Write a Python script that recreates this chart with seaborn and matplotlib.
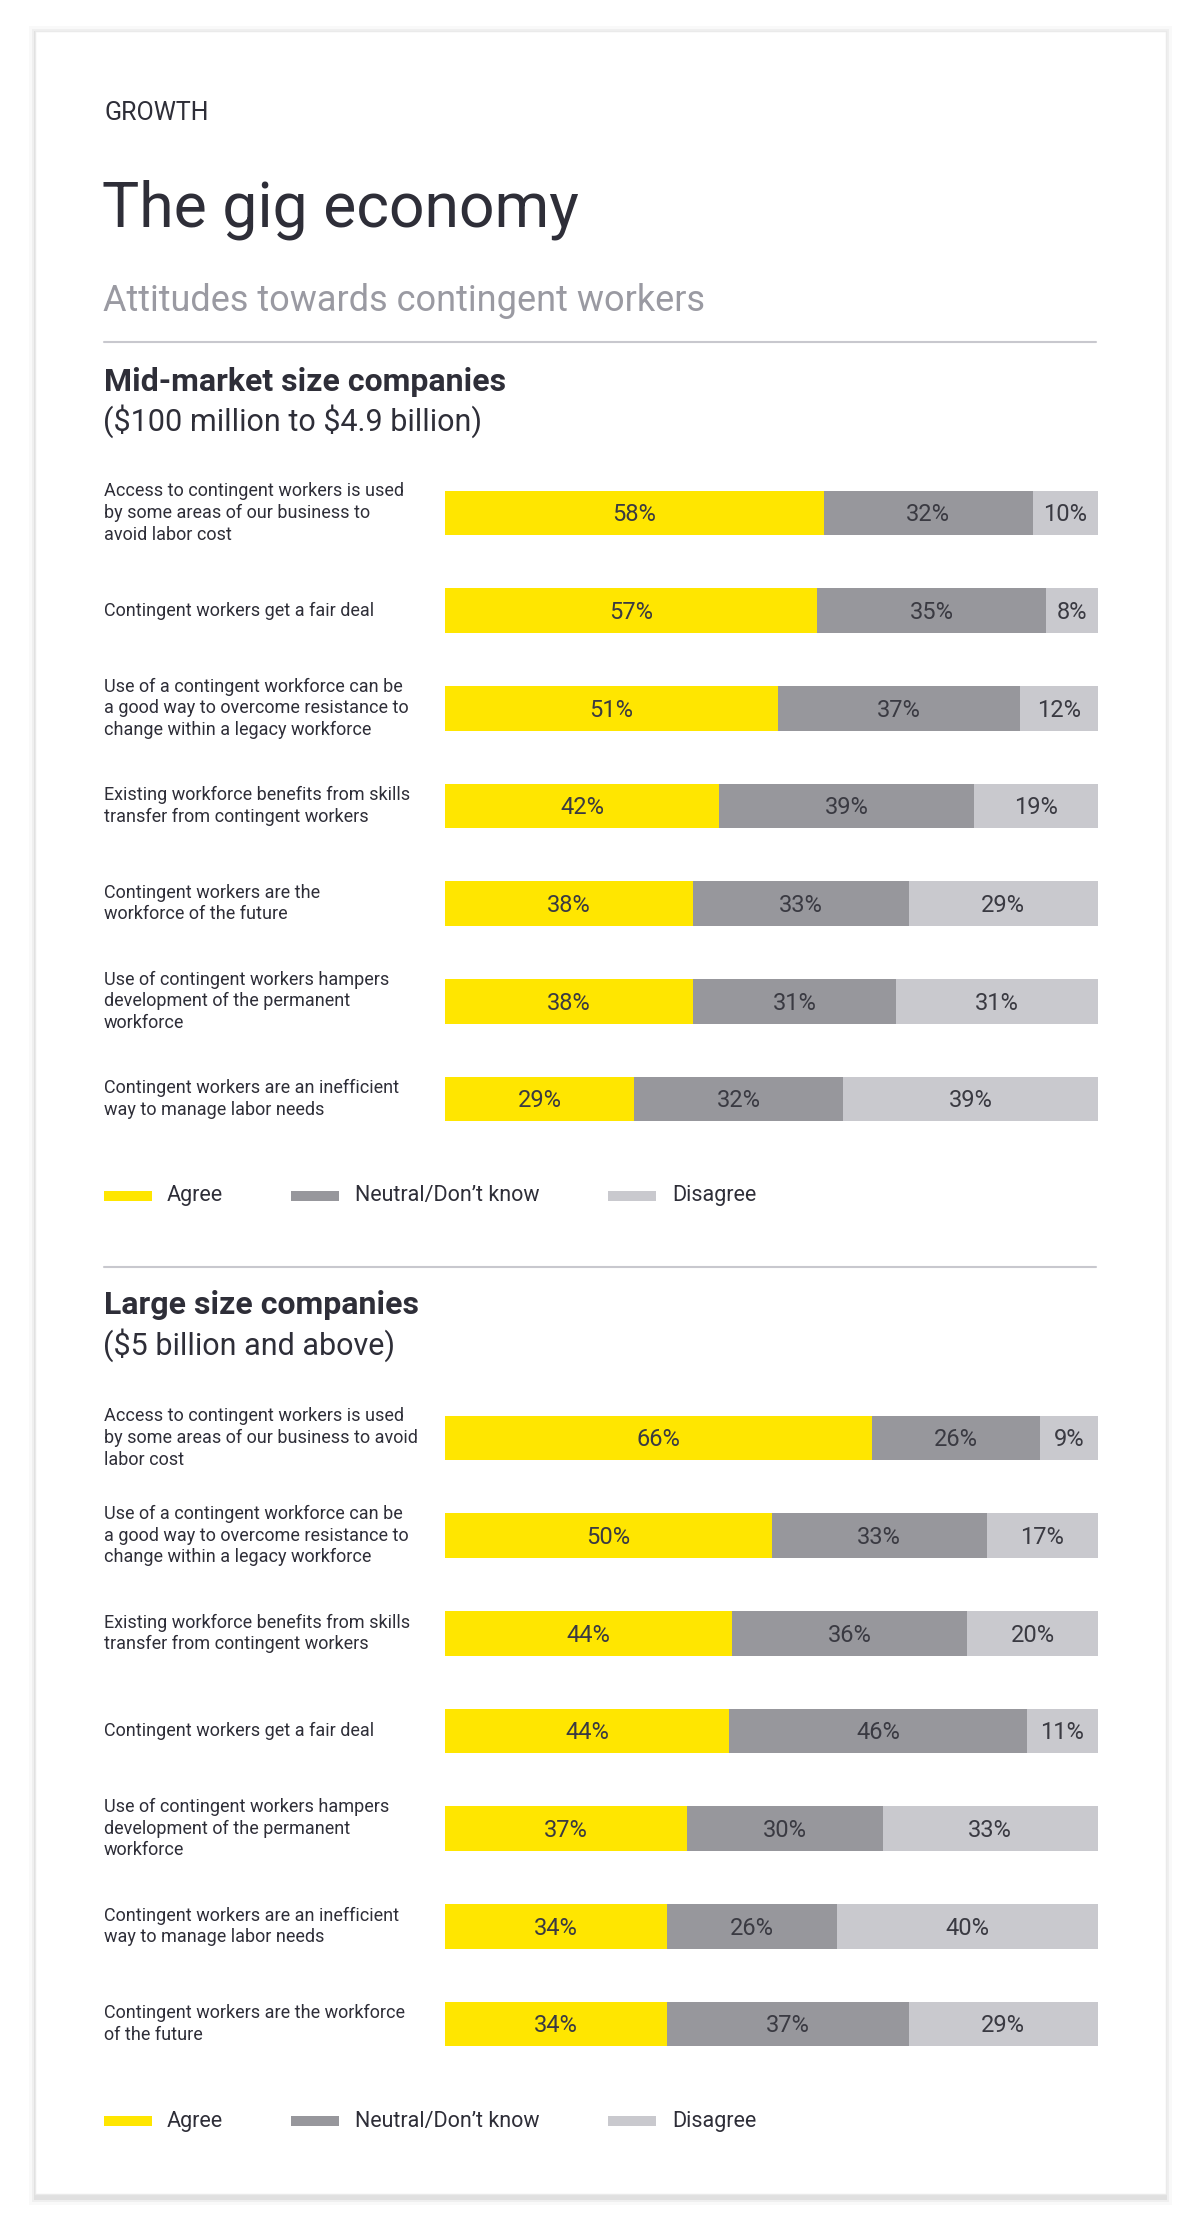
import numpy as np
import pandas as pd
import matplotlib
matplotlib.use("Agg")
import matplotlib.pyplot as plt
import seaborn as sns
from matplotlib.patches import Rectangle
from matplotlib.lines import Line2D
from matplotlib import transforms

# ---------------- data ----------------
mid_labels = [
    "Access to contingent workers is used\nby some areas of our business to\navoid labor cost",
    "Contingent workers get a fair deal",
    "Use of a contingent workforce can be\na good way to overcome resistance to\nchange within a legacy workforce",
    "Existing workforce benefits from skills\ntransfer from contingent workers",
    "Contingent workers are the\nworkforce of the future",
    "Use of contingent workers hampers\ndevelopment of the permanent\nworkforce",
    "Contingent workers are an inefficient\nway to manage labor needs",
]
mid_agree = [58, 57, 51, 42, 38, 38, 29]
mid_neutral = [32, 35, 37, 39, 33, 31, 32]
mid_disagree = [10, 8, 12, 19, 29, 31, 39]

large_labels = [
    "Access to contingent workers is used\nby some areas of our business to avoid\nlabor cost",
    "Use of a contingent workforce can be\na good way to overcome resistance to\nchange within a legacy workforce",
    "Existing workforce benefits from skills\ntransfer from contingent workers",
    "Contingent workers get a fair deal",
    "Use of contingent workers hampers\ndevelopment of the permanent\nworkforce",
    "Contingent workers are an inefficient\nway to manage labor needs",
    "Contingent workers are the workforce\nof the future",
]
large_agree = [66, 50, 44, 44, 37, 34, 34]
large_neutral = [26, 33, 36, 46, 30, 26, 37]
large_disagree = [9, 17, 20, 11, 33, 40, 29]

legend_labels = ["Agree", "Neutral/Don\u2019t know", "Disagree"]

# ---------------- style ----------------
YELLOW = "#FFE600"
NEUTRAL = "#97979C"
DISAGREE = "#C9C9CE"
TXT = "#2E2E38"
GREY_TXT = "#9A9AA2"
RULE = "#C8C8CE"
COLORS = [YELLOW, NEUTRAL, DISAGREE]

sns.set_theme(style="white")
plt.rcParams["font.family"] = ["Roboto", "DejaVu Sans"]
plt.rcParams["text.parse_math"] = False

W, H = 1200, 2224
fig = plt.figure(figsize=(W / 100, H / 100), dpi=100)
fig.patch.set_facecolor("white")


def fx(px):
    return px / W


def fy(py):
    return 1 - py / H


# card with soft shadow
for k, a in [(8, 0.025), (5, 0.04), (3, 0.06)]:
    fig.patches.append(Rectangle((fx(35 - k + 2), fy(2194 + k + 3)), fx(1131 + 2 * k - 4), (2163 + 2 * k) / H,
                                 transform=fig.transFigure, facecolor="black", alpha=a,
                                 edgecolor="none", zorder=0))
fig.patches.append(Rectangle((fx(35), fy(2194)), fx(1131), 2163 / H, transform=fig.transFigure,
                             facecolor="white", edgecolor="#EAEAEA", linewidth=1, zorder=1))

# header texts
fig.text(fx(104), fy(113), "GROWTH", fontsize=18, color=TXT, ha="left", va="center", zorder=3)
fig.text(fx(102), fy(210), "The gig economy", fontsize=45, color=TXT, ha="left", va="center",
         zorder=3)
fig.text(fx(103), fy(301), "Attitudes towards contingent workers", fontsize=26, color=GREY_TXT,
         ha="left", va="center", zorder=3)


def rule(py):
    fig.add_artist(Line2D([fx(104), fx(1096)], [fy(py), fy(py)], transform=fig.transFigure,
                          color=RULE, linewidth=1.5, zorder=3))


def legend(py):
    items = [(104, 167), (291, 355), (608, 672)]
    for (px, tx), lab, c in zip(items, legend_labels, COLORS):
        fig.patches.append(Rectangle((fx(px), fy(py + 5)), fx(48), 10 / H, transform=fig.transFigure,
                                     facecolor=c, edgecolor="none", zorder=3))
        fig.text(fx(tx), fy(py), lab, fontsize=15.5, color=TXT, ha="left", va="center", zorder=3)


def section(first_center, labels, agree, neutral, disagree):
    df = pd.DataFrame({"label": labels, "agree": agree, "neutral": neutral, "disagree": disagree})
    total = df[["agree", "neutral", "disagree"]].sum(axis=1)
    df["c1"] = df["agree"] / total * 100
    df["c2"] = (df["agree"] + df["neutral"]) / total * 100
    df["c3"] = (df["agree"] + df["neutral"] + df["disagree"]) / total * 100

    spacing = 97.67
    n = len(labels)
    top = first_center - spacing / 2
    height = spacing * n
    ax = fig.add_axes([fx(445), fy(top + height), fx(1098) - fx(445), height / H])
    ax.set_zorder(4)
    ax.patch.set_alpha(0)
    for col, c in zip(["c3", "c2", "c1"], [DISAGREE, NEUTRAL, YELLOW]):
        sns.barplot(data=df, y="label", x=col, orient="h", color=c, saturation=1,
                    width=0.46, linewidth=0, ax=ax, errorbar=None)
    ax.set_xlim(0, 100)
    ax.set_ylim(n - 0.5, -0.5)
    ax.axis("off")

    trans = transforms.blended_transform_factory(fig.transFigure, ax.transData)
    for i, row in df.iterrows():
        ax.text(fx(104), i, row["label"], transform=trans, ha="left", va="center",
                fontsize=13, color=TXT, linespacing=1.25)
        lefts = [0, row["c1"], row["c2"]]
        rights = [row["c1"], row["c2"], row["c3"]]
        vals = [row["agree"], row["neutral"], row["disagree"]]
        for l, r, v in zip(lefts, rights, vals):
            ax.text((l + r) / 2, i + 0.02, f"{v}%", ha="center", va="center", fontsize=17,
                    color="#3A3A42")
    return ax


# section 1
rule(342)
fig.text(fx(104), fy(382), "Mid-market size companies", fontsize=23, fontweight="bold",
         color=TXT, ha="left", va="center", zorder=3)
fig.text(fx(103), fy(421), "($100 million to $4.9 billion)", fontsize=22, color=TXT,
         ha="left", va="center", zorder=3)
section(513, mid_labels, mid_agree, mid_neutral, mid_disagree)
legend(1196)

# section 2
rule(1267)
fig.text(fx(104), fy(1305), "Large size companies", fontsize=23, fontweight="bold",
         color=TXT, ha="left", va="center", zorder=3)
fig.text(fx(103), fy(1345), "($5 billion and above)", fontsize=22, color=TXT,
         ha="left", va="center", zorder=3)
section(1438, large_labels, large_agree, large_neutral, large_disagree)
legend(2121)

fig.savefig("out.png", dpi=100, facecolor=fig.get_facecolor())
